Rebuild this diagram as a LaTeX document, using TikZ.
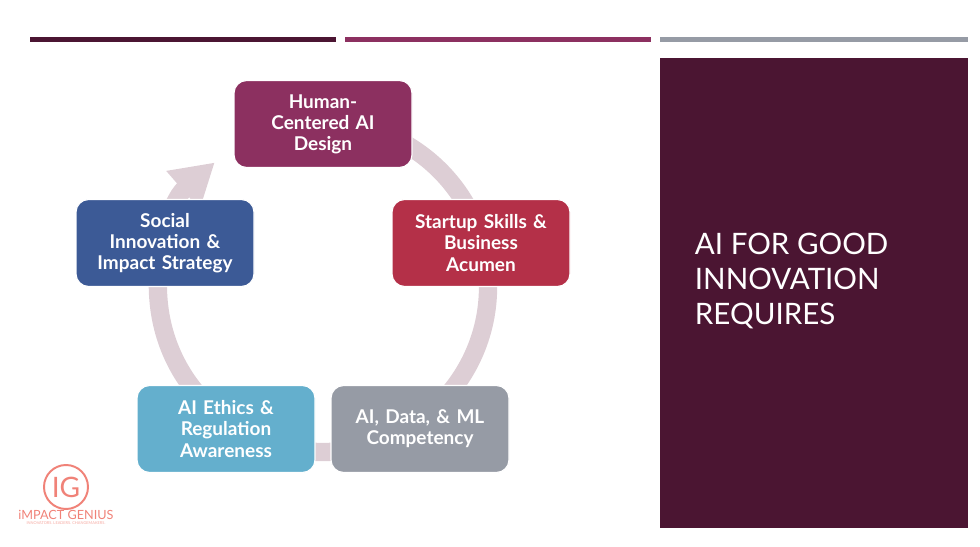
\documentclass[tikz,border=0pt]{standalone}
\usepackage{fontspec}
\setmainfont{Lato}
\usetikzlibrary{arrows.meta}
\definecolor{plum}{RGB}{75,21,50}
\definecolor{berry}{RGB}{140,48,96}
\definecolor{crimson}{RGB}{180,48,72}
\definecolor{navy}{RGB}{60,90,150}
\definecolor{sky}{RGB}{100,175,205}
\definecolor{slate}{RGB}{150,155,165}
\definecolor{ring}{RGB}{221,206,213}
\definecolor{coral}{RGB}{240,130,120}
\tikzset{
  stage/.style={draw=white, line width=0.8pt, rounded corners=9pt, minimum width=178*0.025cm,
    minimum height=87*0.025cm, text width=165*0.025cm, align=center, text=white,
    font=\fontsize{13.5}{15}\selectfont\bfseries},
}
\begin{document}
\begin{tikzpicture}[x=0.025cm,y=0.025cm]
    \useasboundingbox (0,0) rectangle (980,546);
    %Balken oben
    \fill[plum]  (30,504)  rectangle (336,509);
    \fill[berry] (345,504) rectangle (651,509);
    \fill[slate] (660,504) rectangle (968,509);
    %Titelfeld
    \fill[plum] (660,18) rectangle (968,488);
    \node[anchor=north west, align=left, text=white, font=\fontsize{21}{25}\selectfont]
        (title) at (690,318) {AI FOR GOOD\\INNOVATION\\REQUIRES};
    %Kreis
    \draw[ring, line width=13pt, -{Triangle[length=30pt,width=34pt]}]
        (323,259) ++(100:165) arc[start angle=100, end angle=-229, radius=165];
    %Stufen
    \node[stage, fill=berry]   (hcd)    at (323,422) {Human-\\Centered AI\\Design};
    \node[stage, fill=crimson] (start)  at (481,303) {Startup Skills \&\\Business\\Acumen};
    \node[stage, fill=slate]   (ml)     at (420,117) {AI, Data, \& ML\\Competency};
    \node[stage, fill=sky]     (ethics) at (226,117) {AI Ethics \&\\Regulation\\Awareness};
    \node[stage, fill=navy]    (social) at (165,303) {Social\\Innovation \&\\Impact Strategy};
    %Logo
    \draw[coral, line width=1.4pt] (66,59) circle (22);
    \node[coral, font=\fontsize{20}{20}\selectfont] (ig) at (66,59) {IG};
    \node[coral, font=\fontsize{9}{9}\selectfont] (brand) at (66,31) {iMPACT GENIUS};
    \node[coral!70, font=\fontsize{2.8}{3}\selectfont] (motto) at (66,23) {INNOVATORS. LEADERS. CHANGEMAKERS.};
\end{tikzpicture}
\end{document}
